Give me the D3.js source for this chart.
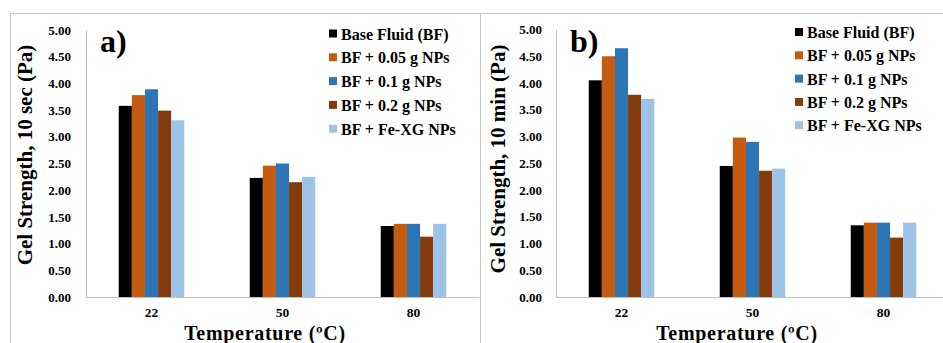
<!DOCTYPE html>
<html>
<head>
<meta charset="utf-8">
<script src="https://cdn.jsdelivr.net/npm/d3@7"></script>
<style>
  body { margin: 0; background: #fff; }
  svg { display: block; font-family: "Liberation Serif", "Times New Roman", serif; font-weight: bold; }
</style>
</head>
<body>
<div id="chart"></div>
<script>
const temperatures = ["22", "50", "80"];
const seriesNames = ["Base Fluid (BF)", "BF + 0.05 g NPs", "BF + 0.1 g NPs", "BF + 0.2 g NPs", "BF + Fe-XG NPs"];
const seriesColors = ["#000000", "#c55a11", "#2e75b6", "#843c0c", "#9dc3e6"];
const yTicks = [0, 0.5, 1, 1.5, 2, 2.5, 3, 3.5, 4, 4.5, 5];

// gel strength after 10 sec, one row per series, one value per temperature
const gel10sec = [
  [3.58, 2.23, 1.33],
  [3.78, 2.46, 1.37],
  [3.89, 2.50, 1.37],
  [3.49, 2.15, 1.13],
  [3.31, 2.25, 1.37]
];
// gel strength after 10 min
const gel10min = [
  [4.05, 2.45, 1.34],
  [4.50, 2.98, 1.39],
  [4.65, 2.90, 1.39],
  [3.78, 2.36, 1.11],
  [3.70, 2.40, 1.39]
];

const W = 943, H = 343;
const svg = d3.select("#chart").append("svg")
  .attr("width", W)
  .attr("height", H);

function drawPanel(p) {
  const g = svg.append("g");

  // panel frame
  g.append("rect")
    .attr("x", p.frameX + 0.5).attr("y", 13.5)
    .attr("width", p.frameW).attr("height", 400)
    .attr("fill", "#fff")
    .attr("stroke", "#c8c8c8");

  const x0 = d3.scaleBand().domain(temperatures).range([p.left, p.right]);
  const bw = x0.bandwidth();
  const x1 = d3.scaleBand().domain(seriesNames).range([bw / 4, bw * 3 / 4]);
  const y = d3.scaleLinear().domain([0, 5]).range([p.bottom, p.top]);

  // bars
  const groups = g.selectAll(".grp")
    .data(temperatures)
    .join("g")
    .attr("transform", d => `translate(${x0(d)},0)`);
  groups.selectAll("rect")
    .data((t, ti) => seriesNames.map((s, si) => ({ s, si, v: p.values[si][ti] })))
    .join("rect")
    .attr("x", d => x1(d.s))
    .attr("y", d => y(d.v))
    .attr("width", x1.bandwidth())
    .attr("height", d => y(0) - y(d.v))
    .attr("fill", d => seriesColors[d.si]);

  // y axis
  const yAxis = g.append("g")
    .attr("transform", `translate(${p.left},0)`)
    .call(d3.axisLeft(y).tickValues(yTicks).tickSize(0).tickPadding(p.left - p.tickRight).tickFormat(d3.format(".2f")));
  yAxis.select(".domain").attr("stroke", "#bfbfbf");
  yAxis.selectAll("text")
    .style("font-family", "Liberation Serif")
    .style("font-weight", "bold")
    .style("font-size", "13px")
    .attr("fill", "#000");

  // x axis
  const xAxis = g.append("g")
    .attr("transform", `translate(0,${p.bottom})`)
    .call(d3.axisBottom(x0).tickSize(0).tickPadding(13));
  xAxis.select(".domain").attr("stroke", "#bfbfbf");
  xAxis.selectAll("text")
    .attr("dy", "0.5em")
    .style("font-family", "Liberation Serif")
    .style("font-weight", "bold")
    .style("font-size", "13.5px")
    .attr("fill", "#000");

  // axis titles
  g.append("text")
    .attr("transform", `translate(${p.yTitleX},${p.yTitleY}) rotate(-90)`)
    .attr("text-anchor", "middle")
    .style("font-size", "21px")
    .text(p.yTitle);
  g.append("text")
    .attr("x", p.xTitleX).attr("y", 340)
    .attr("text-anchor", "middle")
    .style("font-size", "20px")
    .style("letter-spacing", "0.7px")
    .text("Temperature (\u00baC)");

  // panel label
  g.append("text")
    .attr("x", p.labelX).attr("y", 52)
    .style("font-size", "32px")
    .text(p.label);

  // legend
  const leg = g.selectAll(".leg")
    .data(seriesNames)
    .join("g")
    .attr("transform", (d, i) => `translate(${p.legX},${p.legY + i * p.legStep})`);
  leg.append("rect")
    .attr("x", 0).attr("y", -4.5)
    .attr("width", 8).attr("height", 8)
    .attr("fill", (d, i) => seriesColors[i]);
  leg.append("text")
    .attr("x", 12).attr("y", 5.5)
    .style("font-size", "16px")
    .text(d => d);
}

drawPanel({
  frameX: 10, frameW: 480,
  left: 86, right: 479, top: 30, bottom: 297, tickRight: 71,
  values: gel10sec,
  yTitle: "Gel Strength, 10 sec (Pa)", yTitleX: 32, yTitleY: 155,
  xTitleX: 265, label: "a)", labelX: 100,
  legX: 329, legY: 34, legStep: 23.8
});

drawPanel({
  frameX: 480, frameW: 480,
  left: 556, right: 949, top: 29.5, bottom: 297, tickRight: 542,
  values: gel10min,
  yTitle: "Gel Strength, 10 min (Pa)", yTitleX: 505, yTitleY: 159,
  xTitleX: 737, label: "b)", labelX: 570,
  legX: 795, legY: 32.5, legStep: 23.3
});
</script>
</body>
</html>
